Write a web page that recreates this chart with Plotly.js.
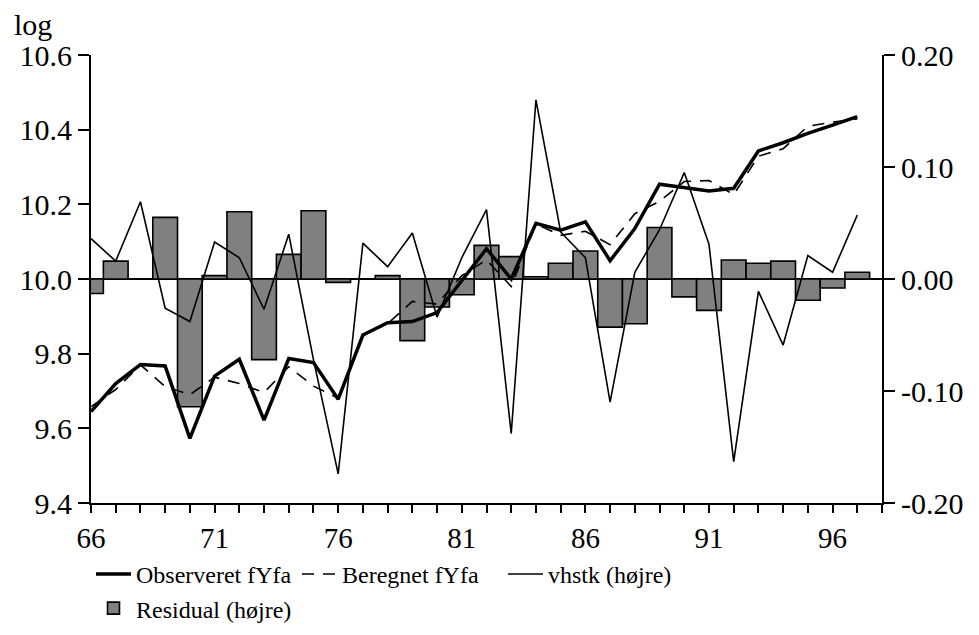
<!DOCTYPE html>
<html>
<head>
<meta charset="utf-8">
<script src="https://cdn.plot.ly/plotly-3.0.1.min.js"></script>
<style>
  html, body { margin: 0; padding: 0; background: #fff; }
  #chart { width: 979px; height: 635px; }
</style>
</head>
<body>
<div id="chart"></div>
<script>
// Years (two-digit, 1966-1997)
const years = [66, 67, 68, 69, 70, 71, 72, 73, 74, 75, 76, 77, 78, 79, 80, 81,
               82, 83, 84, 85, 86, 87, 88, 89, 90, 91, 92, 93, 94, 95, 96, 97];

// Observeret fYfa (log, left axis)
const observed = [9.645, 9.720, 9.771, 9.767, 9.573, 9.740, 9.785, 9.622, 9.787, 9.776, 9.678, 9.850, 9.883, 9.886, 9.910, 9.995,
                  10.081, 10.000, 10.149, 10.131, 10.153, 10.049, 10.135, 10.254, 10.245, 10.236, 10.243, 10.343, 10.365, 10.390, 10.412, 10.435];

// Beregnet fYfa (log, left axis)
const computed = [9.658, 9.704, 9.770, 9.712, 9.690, 9.737, 9.720, 9.696, 9.765, 9.713, 9.681, 9.850, 9.880, 9.940, 9.933, 10.009,
                  10.051, 9.980, 10.147, 10.117, 10.128, 10.092, 10.175, 10.208, 10.261, 10.264, 10.226, 10.329, 10.349, 10.409, 10.420, 10.429];

// vhstk (right axis)
const vhstk = [0.036, 0.016, 0.069, -0.026, -0.038, 0.033, 0.019, -0.027, 0.040, -0.072, -0.174, 0.032, 0.011, 0.041, -0.034, 0.019,
               0.062, -0.138, 0.160, 0.042, 0.019, -0.110, 0.006, 0.044, 0.095, 0.031, -0.163, -0.011, -0.059, 0.021, 0.006, 0.057];

// Residual (right axis)
const residual = [-0.013, 0.016, 0.000, 0.055, -0.114, 0.003, 0.060, -0.072, 0.022, 0.061, -0.003, 0.000, 0.003, -0.055, -0.025, -0.014,
                  0.030, 0.020, 0.002, 0.014, 0.025, -0.043, -0.040, 0.046, -0.016, -0.028, 0.017, 0.014, 0.016, -0.019, -0.008, 0.006];

// Tick labels
const xTickVals = [66, 71, 76, 81, 86, 91, 96];
const xTickText = ['66', '71', '76', '81', '86', '91', '96'];
const leftTickVals = [9.4, 9.6, 9.8, 10.0, 10.2, 10.4, 10.6];
const leftTickText = ['9.4', '9.6', '9.8', '10.0', '10.2', '10.4', '10.6'];
const rightTickVals = [-0.2, -0.1, 0, 0.1, 0.2];
const rightTickText = ['-0.20', '-0.10', '0.00', '0.10', '0.20'];

const FONT = 'Liberation Serif, Times New Roman, serif';

const traces = [
  {
    type: 'scatter', mode: 'lines', name: 'Observeret fYfa',
    x: years, y: observed, yaxis: 'y2',
    line: { color: '#000', width: 3.5 }
  },
  {
    type: 'scatter', mode: 'lines', name: 'Beregnet fYfa',
    x: years, y: computed, yaxis: 'y2',
    line: { color: '#000', width: 1.6, dash: '12px,9px' }
  },
  {
    type: 'scatter', mode: 'lines', name: 'vhstk (højre)',
    x: years, y: vhstk, yaxis: 'y',
    line: { color: '#000', width: 1.6 }
  },
  {
    type: 'bar', name: 'Residual (højre)',
    x: years, y: residual, yaxis: 'y', width: 1,
    marker: { color: '#808080', line: { color: '#000', width: 1.6 } }
  }
];

const layout = {
  width: 979, height: 635,
  margin: { l: 91, r: 97, t: 55, b: 132, pad: 0, autoexpand: false },
  paper_bgcolor: '#fff', plot_bgcolor: '#fff',
  font: { family: FONT, color: '#000', size: 30 },
  showlegend: true,
  bargap: 0,
  xaxis: {
    type: 'linear', range: [66, 98],
    tickmode: 'array', tickvals: xTickVals, ticktext: xTickText,
    ticks: 'outside', ticklen: 8, tickwidth: 2, tickcolor: '#000',
    minor: { dtick: 1, tick0: 66, ticks: 'outside', ticklen: 8, tickwidth: 2, tickcolor: '#000', showgrid: false },
    showline: true, linecolor: '#000', linewidth: 2, mirror: false,
    showgrid: false, zeroline: false,
    tickfont: { family: FONT, size: 29, color: '#000' }
  },
  // right axis (residual & vhstk), drawn underneath
  yaxis: {
    side: 'right', range: [-0.2, 0.2],
    tickmode: 'array', tickvals: rightTickVals, ticktext: rightTickText,
    ticks: 'outside', ticklen: 11, tickwidth: 2, tickcolor: '#000',
    showline: true, linecolor: '#000', linewidth: 2,
    showgrid: false,
    zeroline: true, zerolinecolor: '#000', zerolinewidth: 2,
    tickfont: { family: FONT, size: 30, color: '#000' }
  },
  // left axis (log levels), overlaid on top
  yaxis2: {
    side: 'left', overlaying: 'y', range: [9.4, 10.6],
    tickmode: 'array', tickvals: leftTickVals, ticktext: leftTickText,
    ticks: 'outside', ticklen: 11, tickwidth: 2, tickcolor: '#000',
    showline: true, linecolor: '#000', linewidth: 2,
    showgrid: false, zeroline: false,
    tickfont: { family: FONT, size: 30, color: '#000' }
  },
  legend: {
    orientation: 'h', x: 0, xanchor: 'left', y: -0.109, yanchor: 'top',
    font: { family: FONT, size: 24, color: '#000' },
    traceorder: 'normal', entrywidth: 156, entrywidthmode: 'pixels',
    itemwidth: 35,
    bgcolor: 'rgba(0,0,0,0)', borderwidth: 0, tracegroupgap: 0
  },
  annotations: [
    {
      text: 'log', xref: 'paper', yref: 'paper',
      x: -0.1, xanchor: 'left', y: 1.069, yanchor: 'middle',
      showarrow: false, font: { family: FONT, size: 30, color: '#000' }
    }
  ]
};

Plotly.newPlot('chart', traces, layout, { displayModeBar: false, staticPlot: true });
</script>
</body>
</html>
